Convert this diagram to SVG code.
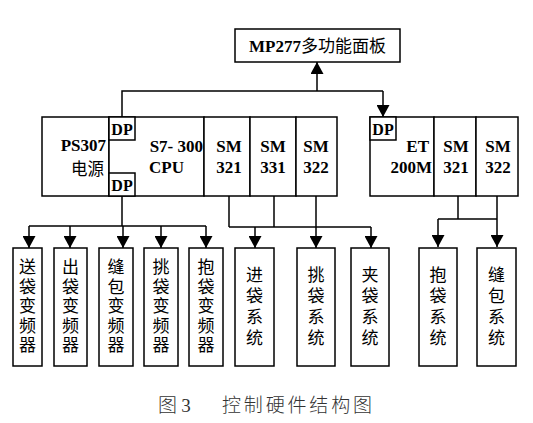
<svg xmlns="http://www.w3.org/2000/svg" width="533" height="423" viewBox="0 0 533 423">
<defs>
<marker id="ah" viewBox="0 0 12 13" refX="12" refY="6.5" markerWidth="12" markerHeight="13" markerUnits="userSpaceOnUse" orient="auto">
<path d="M0,0 L12,6.5 L0,13 Z" fill="#000"/>
</marker>
<style>
.box{fill:#fff;stroke:#000;stroke-width:1.5}
.ln{fill:none;stroke:#000;stroke-width:1.5}
.arr{fill:none;stroke:#000;stroke-width:1.5;marker-end:url(#ah)}
.b{font-family:"Liberation Serif","Noto Sans CJK SC",serif;font-weight:bold;font-size:17px;fill:#000}
.dp{font-family:"Liberation Serif",serif;font-weight:bold;font-size:16px;fill:#000}
.cn{font-family:"Noto Sans CJK SC",sans-serif;font-size:16.5px;font-weight:normal;fill:#000}
.v5{font-family:"Noto Sans CJK SC",sans-serif;font-size:17px;fill:#000;writing-mode:vertical-rl;letter-spacing:2.5px}
.v4{font-family:"Noto Sans CJK SC",sans-serif;font-size:17px;fill:#000;writing-mode:vertical-rl;letter-spacing:4px}
.cap{font-family:"Noto Sans CJK SC",sans-serif;font-size:19px;fill:#333;font-weight:300}
</style>
</defs>
<rect width="533" height="423" fill="#fff"/>

<g id="connectors">
<polyline class="ln" points="122,117 122,91 383,91"/>
<line class="arr" x1="317" y1="91" x2="317" y2="62"/>
<line class="arr" x1="383" y1="91" x2="383" y2="117"/>
<line class="ln" x1="122" y1="196" x2="122" y2="226"/>
<line class="ln" x1="29" y1="226" x2="206" y2="226"/>
<line class="arr" x1="29" y1="226" x2="29" y2="248"/>
<line class="arr" x1="70" y1="226" x2="70" y2="248"/>
<line class="arr" x1="123" y1="226" x2="123" y2="248"/>
<line class="arr" x1="161" y1="226" x2="161" y2="248"/>
<line class="arr" x1="206" y1="226" x2="206" y2="248"/>
<line class="ln" x1="229" y1="196" x2="229" y2="227"/>
<line class="ln" x1="274" y1="196" x2="274" y2="227"/>
<line class="ln" x1="229" y1="227" x2="371" y2="227"/>
<line class="arr" x1="255" y1="227" x2="255" y2="248"/>
<line class="arr" x1="316" y1="196" x2="316" y2="248"/>
<line class="arr" x1="371" y1="227" x2="371" y2="248"/>
<line class="ln" x1="458" y1="196" x2="458" y2="219"/>
<line class="ln" x1="438" y1="219" x2="497" y2="219"/>
<line class="arr" x1="438" y1="219" x2="438" y2="247"/>
<line class="arr" x1="497" y1="196" x2="497" y2="247"/>
</g>

<g id="mp277">
<rect class="box" x="235" y="29" width="165" height="33"/>
<text class="b" x="317.5" y="52" text-anchor="middle" font-size="18">MP277<tspan font-weight="normal" font-family="Noto Sans CJK SC,sans-serif">多功能面板</tspan></text>
</g>

<g id="ps307">
<rect class="box" x="42" y="117" width="67" height="79"/>
<text class="b" x="106" y="151" text-anchor="end">PS307</text>
<text class="cn" x="104" y="175" text-anchor="end">电源</text>
</g>
<g id="cpu">
<rect class="box" x="109" y="117" width="95" height="79"/>
<text class="b" x="203" y="152" text-anchor="end">S7- 300</text>
<text class="b" x="149" y="173">CPU</text>
</g>
<g id="dp1">
<rect class="box" x="109" y="117" width="26" height="23"/>
<text class="dp" x="122" y="135" text-anchor="middle">DP</text>
</g>
<g id="dp2">
<rect class="box" x="109" y="173" width="26" height="23"/>
<text class="dp" x="122" y="191" text-anchor="middle">DP</text>
</g>
<g id="sm321a">
<rect class="box" x="204" y="117" width="46" height="79"/>
<text class="b" x="229" y="152" text-anchor="middle">SM</text>
<text class="b" x="229" y="173" text-anchor="middle">321</text>
</g>
<g id="sm331">
<rect class="box" x="250" y="117" width="46" height="79"/>
<text class="b" x="273" y="152" text-anchor="middle">SM</text>
<text class="b" x="273" y="173" text-anchor="middle">331</text>
</g>
<g id="sm322a">
<rect class="box" x="296" y="117" width="41" height="79"/>
<text class="b" x="316" y="152" text-anchor="middle">SM</text>
<text class="b" x="316" y="173" text-anchor="middle">322</text>
</g>

<g id="et200m">
<rect class="box" x="370" y="117" width="64" height="79"/>
<text class="b" x="429" y="152" text-anchor="end">ET</text>
<text class="b" x="432" y="173" text-anchor="end">200M</text>
</g>
<g id="dp3">
<rect class="box" x="370" y="117" width="26" height="23"/>
<text class="dp" x="383" y="135" text-anchor="middle">DP</text>
</g>
<g id="sm321b">
<rect class="box" x="434" y="117" width="42" height="79"/>
<text class="b" x="456" y="152" text-anchor="middle">SM</text>
<text class="b" x="456" y="173" text-anchor="middle">321</text>
</g>
<g id="sm322b">
<rect class="box" x="476" y="117" width="42" height="79"/>
<text class="b" x="498" y="152" text-anchor="middle">SM</text>
<text class="b" x="498" y="173" text-anchor="middle">322</text>
</g>

<g id="inv1">
<rect class="box" x="13" y="248" width="29" height="118"/>
<text class="v5" x="27.5" y="258.5">送袋变频器</text>
</g>
<g id="inv2">
<rect class="box" x="54" y="248" width="33" height="118"/>
<text class="v5" x="70.5" y="258.5">出袋变频器</text>
</g>
<g id="inv3">
<rect class="box" x="99" y="248" width="34" height="118"/>
<text class="v5" x="116" y="258.5">缝包变频器</text>
</g>
<g id="inv4">
<rect class="box" x="144" y="248" width="34" height="118"/>
<text class="v5" x="161" y="258.5">挑袋变频器</text>
</g>
<g id="inv5">
<rect class="box" x="189" y="248" width="34" height="118"/>
<text class="v5" x="206" y="258.5">抱袋变频器</text>
</g>

<g id="sys1">
<rect class="box" x="235" y="248" width="39" height="118"/>
<text class="v4" x="254.5" y="266">进袋系统</text>
</g>
<g id="sys2">
<rect class="box" x="297" y="248" width="38" height="118"/>
<text class="v4" x="316" y="266">挑袋系统</text>
</g>
<g id="sys3">
<rect class="box" x="351" y="248" width="38" height="118"/>
<text class="v4" x="370" y="266">夹袋系统</text>
</g>
<g id="sys4">
<rect class="box" x="419" y="248" width="38" height="118"/>
<text class="v4" x="438" y="266">抱袋系统</text>
</g>
<g id="sys5">
<rect class="box" x="477" y="248" width="39" height="118"/>
<text class="v4" x="496.5" y="266">缝包系统</text>
</g>

<g id="caption">
<text class="cap" x="158" y="412">图 <tspan font-family="Liberation Serif,serif">3</tspan></text>
<text class="cap" x="222" y="412" textLength="150" lengthAdjust="spacing">控制硬件结构图</text>
</g>
</svg>
